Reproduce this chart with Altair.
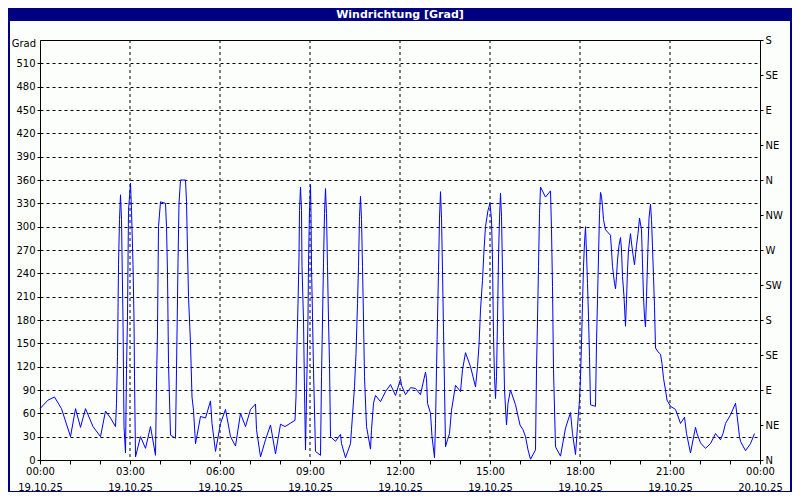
import json
import altair as alt
import pandas as pd

# ---------------- data ----------------
# time in minutes after 19.10.25 00:00
minutes = [
    0, 16, 29, 43, 61, 71, 81, 91, 106, 121, 131, 141, 151, 153, 155, 156, 157, 159, 161, 163,
    166, 168, 171, 173, 175, 177, 181, 183, 186, 188, 189, 191, 201, 211, 221, 231, 233, 235, 237, 241,
    251, 253, 255, 257, 261, 271, 273, 276, 278, 281, 291, 293, 295, 297, 301, 304, 307, 311, 321, 331,
    341, 344, 351, 361, 371, 381, 391, 401, 411, 421, 431, 433, 441, 451, 461, 471, 481,
    490, 500, 510, 512, 514, 516, 518, 519, 521, 523, 524, 527, 529, 531, 534, 536, 537, 539, 541, 542,
    543, 545, 547, 551, 561, 563, 565, 567, 569, 571, 573, 575, 577, 579, 581, 591, 601, 603, 611, 621,
    623, 629, 632, 635, 637, 639, 641, 643, 645, 647, 649, 653, 661, 663, 667, 671, 681, 691, 701, 711,
    721, 723, 731, 741, 751, 761, 763, 771, 773, 775, 781, 784, 789, 791, 793, 795, 797, 799, 801, 803,
    805, 807, 809, 811, 815, 819, 823, 831, 841, 845, 851, 861, 871, 875, 878, 881, 885, 888, 891, 896,
    900, 903, 905, 907, 909, 911, 913, 915, 917, 919, 921, 923, 925, 927, 929, 933, 936, 941, 951,
    960, 966, 971, 976, 981, 991, 993, 995, 997, 999, 1001, 1011, 1021, 1023, 1025, 1027, 1031, 1041, 1051, 1061,
    1065, 1071, 1075, 1077, 1079, 1081, 1083, 1085, 1087, 1089, 1091, 1093, 1095, 1097, 1099, 1101, 1111, 1113, 1115, 1117,
    1119, 1121, 1123, 1125, 1127, 1131, 1141, 1143, 1145, 1149, 1151, 1153, 1155, 1158, 1161, 1163, 1165, 1168, 1171, 1173,
    1175, 1177, 1181, 1183, 1186, 1189, 1193, 1196, 1199, 1203, 1205, 1207, 1209, 1211, 1213, 1216, 1218, 1221, 1223, 1225,
    1227, 1229, 1231, 1236, 1241, 1244, 1247, 1251, 1254, 1261, 1271, 1275, 1281, 1289, 1293, 1301, 1311, 1314, 1321, 1331,
    1341, 1351, 1361, 1366, 1371, 1381, 1391, 1394, 1399, 1401, 1411, 1421, 1429,
]
# wind direction in degrees
direction = [
    66, 77, 81, 66, 30, 66, 42, 66, 43, 30, 63, 54, 43, 73, 133, 191, 251, 309, 341, 309,
    180, 43, 9, 116, 184, 321, 356, 321, 251, 180, 107, 4, 30, 15, 43, 6, 99, 167, 300, 332,
    330, 300, 240, 124, 32, 28, 116, 253, 330, 360, 360, 332, 270, 210, 150, 81, 64, 21, 56, 54,
    76, 47, 11, 47, 65, 30, 18, 60, 43, 65, 72, 39, 4, 26, 45, 8, 46,
    43, 47, 51, 81, 150, 201, 261, 321, 351, 321, 249, 180, 90, 13, 116, 184, 253, 321, 354, 317,
    249, 184, 116, 11, 6, 107, 180, 253, 317, 349, 317, 249, 180, 124, 30, 24, 33, 21, 3, 21,
    39, 94, 137, 201, 249, 313, 339, 309, 249, 180, 107, 43, 14, 39, 73, 83, 75, 88, 97, 83,
    104, 96, 84, 93, 92, 84, 90, 113, 105, 73, 60, 30, 3, 47, 116, 180, 244, 311, 345, 311,
    244, 167, 94, 17, 26, 34, 64, 96, 88, 116, 138, 120, 94, 120, 148, 193, 231, 270, 300, 321,
    330, 309, 257, 159, 107, 79, 107, 180, 261, 311, 343, 313, 244, 159, 90, 45, 73, 90, 71,
    45, 39, 30, 13, 1, 13, 116, 180, 249, 317, 351, 338, 346, 296, 223, 116, 17, 5, 41, 61,
    34, 7, 43, 60, 77, 107, 150, 201, 249, 279, 300, 266, 227, 184, 133, 71, 69, 150, 206, 261,
    317, 344, 339, 326, 309, 296, 289, 270, 249, 227, 220, 236, 257, 276, 286, 270, 236, 210, 172, 206,
    244, 270, 291, 279, 264, 251, 276, 291, 311, 296, 253, 210, 184, 171, 210, 274, 311, 329, 309, 274,
    236, 197, 144, 139, 136, 124, 105, 90, 77, 69, 65, 58, 47, 55, 34, 9, 42, 34, 22, 15,
    21, 34, 26, 34, 47, 58, 73, 58, 30, 24, 12, 21, 34,
]

left_ticks = list(range(0, 511, 30))
compass_labels = ["N", "NE", "E", "SE", "S", "SW", "W", "NW", "N", "NE", "E", "SE", "S"]
compass_ticks = list(range(0, 541, 45))
hour_ticks = list(range(0, 1441, 60))
grid_hours = list(range(180, 1261, 180))
dates = ["19.10.25", "20.10.25"]
chart_title = "Windrichtung [Grad]"
unit_label = "Grad"

# ---------------- chart ----------------
FONT = "DejaVu Sans"
NAVY = "#000080"
W, H = 720, 420

df = pd.DataFrame({"t": minutes, "dir": direction})
one = pd.DataFrame({"k": [0]})

x_scale = alt.Scale(domain=[0, 1440], nice=False, zero=False)
y_scale = alt.Scale(domain=[0, 540], nice=False, zero=False)

hour_expr = "(floor(datum.value/60) % 24 < 10 ? '0' : '') + (floor(datum.value/60) % 24) + ':00'"
x_label_expr = (
    f"datum.value % 180 == 0 ? [{hour_expr}, datum.value >= 1440 ? '{dates[1]}' : '{dates[0]}'] : ''"
)

x_axis = alt.Axis(
    values=hour_ticks,
    labelExpr=x_label_expr,
    grid=False,
    tickSize=4,
    labelPadding=2,
    labelLineHeight=16,
    labelOverlap=False,
    labelFlush=False,
    title=None,
)

vgrid = alt.Chart(pd.DataFrame({"t": grid_hours})).mark_rule(
    color="black", strokeDash=[3, 3], strokeWidth=1
).encode(x=alt.X("t:Q", scale=x_scale, axis=x_axis))

line = alt.Chart(df).mark_line(color="#0000FF", strokeWidth=1).encode(
    x=alt.X("t:Q", scale=x_scale, axis=x_axis),
    y=alt.Y(
        "dir:Q",
        scale=y_scale,
        axis=alt.Axis(
            values=left_ticks,
            grid=True,
            gridDash=[3, 3],
            gridColor="black",
            gridOpacity=1,
            tickSize=3,
            labelPadding=2,
            title=None,
        ),
    ),
)

right = alt.Chart(df).mark_line(opacity=0).encode(
    x=alt.X("t:Q", scale=x_scale, axis=x_axis),
    y=alt.Y(
        "dir:Q",
        scale=y_scale,
        axis=alt.Axis(
            orient="right",
            values=compass_ticks,
            labelExpr=f"{json.dumps(compass_labels)}[round(datum.value/45)]",
            grid=False,
            tickSize=3,
            labelPadding=2,
            title=None,
        ),
    ),
)


def frame_rect(x1, x2, y1, y2):
    return alt.Chart(one).mark_rect(fill=NAVY).encode(
        x=alt.value(x1), x2=alt.value(x2), y=alt.value(y1), y2=alt.value(y2)
    )


title_bar = frame_rect(-32, W + 32, -32, -19)
left_border = frame_rect(-32, -30, -32, H + 32)
right_border = frame_rect(W + 30, W + 32, -32, H + 32)
bottom_border = frame_rect(-32, W + 32, H + 31, H + 32)

title_text = alt.Chart(pd.DataFrame({"s": [chart_title]})).mark_text(
    color="white", font=FONT, fontSize=11, fontWeight="bold", align="center", baseline="middle"
).encode(x=alt.value(W / 2), y=alt.value(-25.5), text="s:N")

unit_text = alt.Chart(pd.DataFrame({"s": [unit_label]})).mark_text(
    color="black", font=FONT, fontSize=10, align="right", baseline="middle"
).encode(x=alt.value(-4), y=alt.value(4), text="s:N")

chart = (
    alt.layer(vgrid, line, right, title_bar, left_border, right_border, bottom_border, title_text, unit_text)
    .resolve_scale(y="independent")
    .properties(
        width=W,
        height=H,
        padding={"left": 32, "top": 32, "right": 32, "bottom": 32},
        autosize=alt.AutoSizeParams(type="none"),
        background="#FCFEFC",
    )
    .configure_view(stroke="black", strokeWidth=1)
    .configure_axis(
        labelFont=FONT,
        labelFontSize=10,
        labelColor="black",
        domainColor="black",
        domainWidth=1,
        tickColor="black",
        tickWidth=1,
    )
)

chart.save("out.html", embed_options={"renderer": "svg", "actions": False})
